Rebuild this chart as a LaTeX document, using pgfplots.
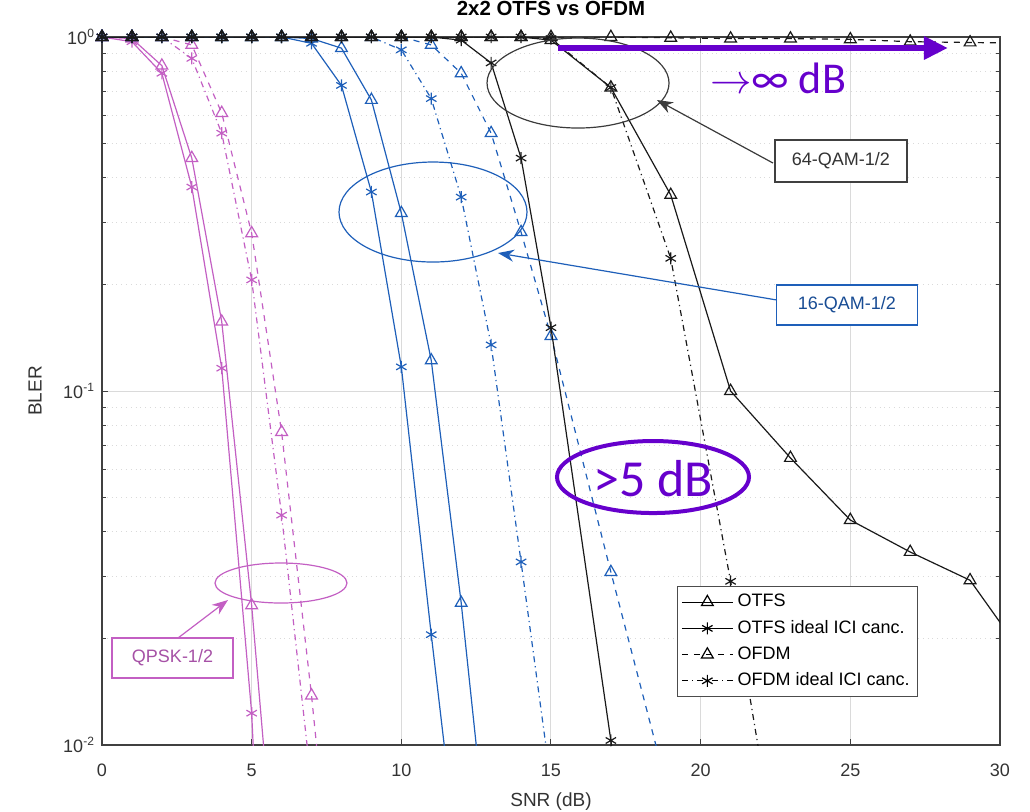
\documentclass[border=0pt]{standalone}
\usepackage{pgfplots}
\pgfplotsset{compat=1.18}
\usepackage{fontspec}
\setmainfont{Liberation Sans}
\newfontfamily\calibri{Carlito}
\usetikzlibrary{arrows.meta}
\definecolor{qpsk}{RGB}{195,95,195}
\definecolor{qamA}{RGB}{30,95,185}
\definecolor{qamB}{RGB}{25,25,25}
\definecolor{annot}{RGB}{102,0,204}
\definecolor{gridc}{RGB}{218,218,218}

\begin{document}
\begin{tikzpicture}
\useasboundingbox (-51pt,-33pt) rectangle (464pt,372.5pt);
\begin{axis}[
  scale only axis, width=449pt, height=354pt,
  xmin=0, xmax=30, ymode=log, ymin=0.01, ymax=1,
  xtick={0,5,...,30}, xticklabels={0,5,10,15,20,25,30},
  ytick={0.01,0.1,1},
  yticklabels={10\textsuperscript{-2},10\textsuperscript{-1},10\textsuperscript{0}},
  grid=both,
  major grid style={gridc, line width=0.5pt},
  minor grid style={gridc, dotted, line width=0.5pt},
  major tick length=3pt, minor tick length=2pt,
  tick style={black!75, line width=0.5pt},
  axis line style={black!75, line width=0.7pt},
  tick label style={font=\fontsize{9}{10}\selectfont, text=black!80},
  xticklabel style={yshift=-6pt},
  title={\bfseries 2x2 OTFS vs OFDM},
  title style={at={(0.5,1)}, anchor=base, yshift=5pt, font=\fontsize{10.2}{12}\selectfont},
  xlabel={SNR (dB)},
  xlabel style={at={(axis description cs:0.5,-0.0800)}, anchor=center, font=\fontsize{9.5}{11}\selectfont, text=black!80},
  ylabel={BLER},
  ylabel style={at={(axis description cs:-0.0746,0.5)}, anchor=center, font=\fontsize{9.5}{11}\selectfont, text=black!80},
  clip mode=individual,
  every axis plot/.append style={line width=0.6pt},
  legend image code/.code={\draw[mark repeat=2,mark phase=2,#1] plot coordinates {(0cm,0cm) (0.45cm,0cm) (0.9cm,0cm)};},
  legend style={at={(0.9087,0.2246)}, anchor=north east, draw=black!70, fill=white,
    font=\fontsize{9}{10}\selectfont, row sep=1.2pt, inner sep=2pt, legend cell align=left},
]
\pgfplotsset{
  tri/.style={mark=triangle, mark size=3.4pt, mark options={solid}},
  ast/.style={mark=asterisk, mark size=3pt, mark options={solid}},
}
% ---------------- QPSK ----------------
\addplot[forget plot, qpsk, solid, tri] coordinates {(0,1)(1,0.99)(2,0.83)(3,0.455)(4,0.157)(5,0.0248)(6,0.0025)};
\addplot[forget plot, qpsk, solid, ast] coordinates {(0,1)(1,0.97)(2,0.79)(3,0.377)(4,0.116)(5,0.0123)(6,0.0002)};
\addplot[forget plot, qpsk, dashed, tri] coordinates {(0,1)(1,1)(2,1)(3,0.95)(4,0.61)(5,0.279)(6,0.0766)(7,0.0138)(8,0.002)};
\addplot[forget plot, qpsk, dashdotted, ast] coordinates {(0,1)(1,1)(2,1)(3,0.87)(4,0.535)(5,0.206)(6,0.0446)(7,0.0077)};
% ---------------- 16-QAM ----------------
\addplot[forget plot, qamA, solid, tri] coordinates {(0,1)(1,1)(2,1)(3,1)(4,1)(5,1)(6,1)(7,0.99)(8,0.93)(9,0.664)(10,0.318)(11,0.122)(12,0.0252)(13,0.004)};
\addplot[forget plot, qamA, solid, ast] coordinates {(0,1)(1,1)(2,1)(3,1)(4,1)(5,1)(6,1)(7,0.96)(8,0.73)(9,0.365)(10,0.117)(11,0.0205)(12,0.0039)};
\addplot[forget plot, qamA, dashed, tri] coordinates {(0,1)(1,1)(2,1)(3,1)(4,1)(5,1)(6,1)(7,1)(8,1)(9,1)(10,1)(11,0.95)(12,0.79)(13,0.535)(14,0.281)(15,0.143)(17,0.0308)(19,0.0069)};
\addplot[forget plot, qamA, dashdotted, ast] coordinates {(0,1)(1,1)(2,1)(3,1)(4,1)(5,1)(6,1)(7,1)(8,1)(9,1)(10,0.92)(11,0.67)(12,0.353)(13,0.135)(14,0.0329)(15,0.0078)};
% ---------------- 64-QAM ----------------
\addplot[forget plot, qamB, solid, tri] coordinates {(0,1)(1,1)(2,1)(3,1)(4,1)(5,1)(6,1)(7,1)(8,1)(9,1)(10,1)(11,1)(12,1)(13,1)(14,1)(15,0.98)(17,0.72)(19,0.358)(21,0.10)(23,0.0647)(25,0.0432)(27,0.0351)(29,0.0292)(31,0.0169)};
\addplot[forget plot, qamB, solid, ast] coordinates {(0,1)(1,1)(2,1)(3,1)(4,1)(5,1)(6,1)(7,1)(8,1)(9,1)(10,1)(11,1)(12,0.98)(13,0.845)(14,0.455)(15,0.151)(17,0.0103)(19,0.0007)};
\addplot[forget plot, qamB, dashed, tri] coordinates {(0,1)(1,1)(2,1)(3,1)(4,1)(5,1)(6,1)(7,1)(8,1)(9,1)(10,1)(11,1)(12,1)(13,1)(14,1)(15,1)(17,1)(19,0.995)(21,0.99)(23,0.99)(25,0.985)(27,0.97)(29,0.965)(31,0.96)};
\addplot[forget plot, qamB, dashdotted, ast] coordinates {(0,1)(1,1)(2,1)(3,1)(4,1)(5,1)(6,1)(7,1)(8,1)(9,1)(10,1)(11,1)(12,1)(13,1)(14,1)(15,0.99)(17,0.72)(19,0.237)(21,0.029)(23,0.0028)};
% ---------------- legend ----------------
\addlegendimage{black, solid, tri}\addlegendentry{OTFS}
\addlegendimage{black, solid, ast}\addlegendentry{OTFS ideal ICI canc.}
\addlegendimage{black, dashed, tri}\addlegendentry{OFDM}
\addlegendimage{black, dashdotted, ast}\addlegendentry{OFDM ideal ICI canc.}
% ---------------- annotations ----------------
\draw[qamB!85, line width=0.6pt] (rel axis cs:0.5301,0.9350) ellipse [x radius=45.5pt, y radius=22.5pt];
\draw[qamB!85, line width=0.6pt, -{Stealth[length=8pt,width=6pt]}] (rel axis cs:0.7472,0.8220) -- (rel axis cs:0.6180,0.9110);
\node[draw=black!75, fill=white, line width=0.6pt, minimum width=66pt, minimum height=21pt, text=black!80, font=\fontsize{9}{10}\selectfont] at (rel axis cs:0.8229,0.8249) {64-QAM-1/2};

\draw[qamA, line width=0.6pt] (rel axis cs:0.3686,0.7528) ellipse [x radius=47pt, y radius=25pt];
\draw[qamA, line width=0.6pt, -{Stealth[length=8pt,width=6pt]}] (rel axis cs:0.7517,0.6285) -- (rel axis cs:0.4410,0.6949);
\node[draw=qamA, fill=white, line width=0.6pt, minimum width=70.5pt, minimum height=20pt, text=qamA!80!black, font=\fontsize{9}{10}\selectfont] at (rel axis cs:0.8296,0.6215) {16-QAM-1/2};

\draw[qpsk, line width=0.6pt] (rel axis cs:0.1993,0.2288) ellipse [x radius=33pt, y radius=10pt];
\draw[qpsk, line width=0.6pt, -{Stealth[length=8pt,width=6pt]}] (rel axis cs:0.0846,0.1511) -- (rel axis cs:0.1403,0.2048);
\node[draw=qpsk, fill=white, line width=0.6pt, minimum width=60.5pt, minimum height=20pt, text=qpsk!85!black, font=\fontsize{9}{10}\selectfont] at (rel axis cs:0.0785,0.1229) {QPSK-1/2};

\draw[annot, line width=3pt, -{Triangle[length=12pt,width=11pt]}] (rel axis cs:0.5078,0.9845) -- (rel axis cs:0.9421,0.9845);
\node[text=annot, font=\fontsize{22}{26}\selectfont, inner sep=0pt] at (rel axis cs:0.7528,0.9421) {$\rightarrow${\calibri ∞ dB}};
\draw[annot, line width=2pt] (rel axis cs:0.6136,0.3785) ellipse [x radius=48pt, y radius=18pt];
\node[text=annot, font=\calibri\fontsize{26}{30}\selectfont, inner sep=0pt] at (rel axis cs:0.6136,0.3765) {>5 dB};
\end{axis}
\end{tikzpicture}
\end{document}
